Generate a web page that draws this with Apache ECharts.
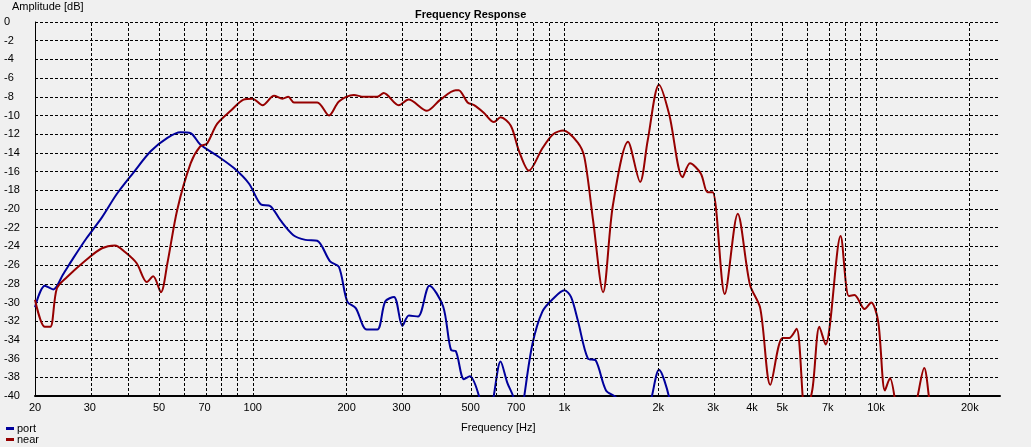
<!DOCTYPE html>
<html>
<head>
<meta charset="UTF-8">
<style>
 html,body{margin:0;padding:0;background:#f0f0f0;}
 #chart{width:1031px;height:447px;}
</style>
</head>
<body>
<div id="chart"></div>
<script src="https://cdn.jsdelivr.net/npm/echarts@6/dist/echarts.min.js"></script>
<script>
// frequency [Hz] / amplitude [dB]
var nearFreq = [20,21.5,22.4,23.5,25.3,29.3,32.8,36.1,38.9,42.4,45.7,47.9,50.7,53.2,57.2,63.2,67.8,71.3,76.8,84.9,93.4,99.7,107.5,117,124.5,130,135.5,161,175.7,189,211,227,251,263,294,316,362,400,448,458,489,513,551,594,624,673,715,769,850,920,992,1104,1160,1237,1331,1431,1600,1750,1850,2012,2170,2395,2530,2740,2880,2990,3270,3600,3940,4250,4580,5010,5260,5560,5930,6250,6580,6890,7700,8180,8530,9190,9650,10160,10680,11090,11510,12000,13400,14280,14900,16000];
var nearDb = [-29.7,-32.6,-32.6,-28.5,-27.3,-25.4,-24.2,-23.9,-24.6,-25.8,-27.8,-27.2,-28.9,-25.8,-20.1,-15.1,-13.3,-13.0,-10.9,-9.5,-8.3,-8.2,-8.9,-7.9,-8.2,-8.0,-8.6,-8.6,-10.0,-8.5,-7.8,-8.0,-8.0,-7.6,-8.9,-8.3,-9.5,-8.3,-7.3,-7.3,-8.6,-8.9,-9.7,-10.7,-10.2,-11.1,-13.8,-15.9,-13.5,-12.0,-11.6,-12.9,-14.5,-21.3,-28.9,-19.6,-12.8,-17.1,-12.7,-6.7,-9.9,-16.6,-15.1,-16.2,-18.2,-18.2,-29.1,-20.5,-28.1,-30.6,-38.8,-33.8,-33.8,-32.8,-42,-39.3,-32.6,-34.5,-22.9,-29.3,-29.2,-30.7,-30.0,-32,-39.4,-38.1,-40.5,-46,-41,-37.0,-41,-48];
var portFreq = [20,21.5,22.9,24.6,26.6,29.3,32.8,36.6,41.4,47.1,53.2,58.6,63.2,67.8,76.8,86.8,97.3,106,114,122.6,135,147.5,161,177,189,201,214,232,251,266,284,302,317,339,369,408,433,448,476,497,535,560,591,624,656,687,715,742,789,849,920,1000,1050,1104,1190,1261,1360,1477,1700,1900,2012,2170,2300];
var portDb = [-30.5,-28.2,-28.6,-27.0,-25.2,-23.1,-20.9,-18.4,-16.1,-13.8,-12.4,-11.8,-11.9,-13.1,-14.3,-15.6,-17.3,-19.5,-19.7,-21.2,-22.8,-23.3,-23.4,-25.6,-26.2,-29.9,-30.6,-32.9,-32.9,-29.9,-29.4,-32.5,-31.4,-31.5,-28.2,-30.4,-35.1,-35.2,-38.2,-37.9,-40.3,-44,-40.3,-36.3,-38.6,-40.2,-44,-40.2,-34.5,-31.0,-29.6,-28.7,-29.4,-31.9,-36.0,-36.2,-39.4,-40.3,-46,-40.3,-37.2,-40.2,-46];
var xLabels = [20,30,50,70,100,200,300,500,700,1000,2000,3000,4000,5000,7000,10000,20000];
var gridFreq = [30,40,50,60,70,80,90,100,200,300,400,500,600,700,800,900,1000,2000,3000,4000,5000,6000,7000,8000,9000,10000,20000,25000];

function lg(f){ return Math.log10(f); }
function pts(fs, ds){ return fs.map(function(f,i){ return [lg(f), ds[i]]; }); }
function fmt(v){
  var f = Math.round(Math.pow(10, v));
  return f >= 1000 ? (f/1000) + 'k' : String(f);
}

var chart = echarts.init(document.getElementById('chart'));
chart.setOption({
  backgroundColor: '#f0f0f0',
  animation: false,
  textStyle: {fontFamily: 'Liberation Sans, Arial, sans-serif'},
  title: {
    text: 'Frequency Response', left: 410, top: 4,
    textStyle: {fontSize: 11, fontWeight: 'bold', color: '#000'}
  },
  legend: {
    orient: 'vertical', left: 4, bottom: 0, height: 40, itemGap: 0, padding: 2,
    itemWidth: 8, itemHeight: 3, icon: 'rect',
    textStyle: {fontSize: 11, color: '#000', padding: [0,0,0,-2]},
    data: ['port', 'near']
  },
  graphic: [
    {type: 'text', left: 12, top: 1, style: {text: 'Amplitude [dB]', fontSize: 11, fill: '#000'}},
    {type: 'text', left: 461, top: 422, style: {text: 'Frequency [Hz]', fontSize: 11, fill: '#000'}}
  ],
  grid: {left: 35, right: 31, top: 22, bottom: 51},
  xAxis: {
    type: 'value', min: lg(20), max: lg(25000),
    axisLine: {show: true, onZero: false, lineStyle: {color: '#000', width: 2}},
    axisTick: {show: false},
    splitLine: {show: false},
    axisLabel: {customValues: xLabels.map(lg), formatter: fmt, fontSize: 11, color: '#000', margin: 6}
  },
  yAxis: {
    type: 'value', min: -40, max: 0, interval: 2,
    axisLine: {show: true, lineStyle: {color: '#000', width: 1}},
    axisTick: {show: false},
    splitLine: {show: true, lineStyle: {color: '#000', type: [3, 2], width: 1}},
    axisLabel: {fontSize: 11, color: '#000', align: 'left', margin: 31}
  },
  series: [
    {
      name: 'port', type: 'line', data: pts(portFreq, portDb),
      smooth: 0.3, showSymbol: false, clip: true,
      lineStyle: {color: '#00009c', width: 2}, itemStyle: {color: '#00009c'},
      markLine: {
        silent: true, symbol: 'none', label: {show: false},
        lineStyle: {color: '#000', type: [3, 2], width: 1},
        data: gridFreq.map(function(f){ return {xAxis: lg(f)}; })
      }
    },
    {
      name: 'near', type: 'line', data: pts(nearFreq, nearDb),
      smooth: 0.3, showSymbol: false, clip: true,
      lineStyle: {color: '#960000', width: 2}, itemStyle: {color: '#960000'}
    }
  ]
});
</script>
</body>
</html>
